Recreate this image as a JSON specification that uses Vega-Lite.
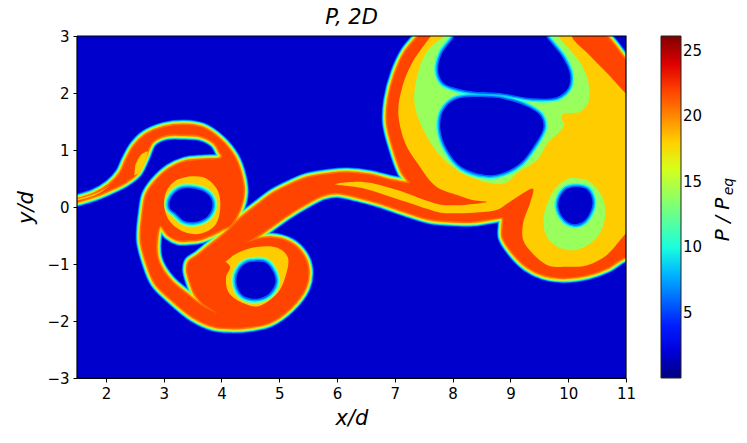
{"$schema":"https://vega.github.io/schema/vega-lite/v6.json","width":549,"height":342,"autosize":"none","padding":{"left":77,"top":36,"right":121,"bottom":65},"background":"white","title":{"text":"P, 2D","font":"DejaVu Sans","fontStyle":"italic","fontWeight":"normal","fontSize":21,"color":"black","offset":1,"anchor":"middle"},
"config":{"view":{"stroke":null},"axis":{"grid":false,"labelFlush":false,"labelOverlap":false,"labelFont":"DejaVu Sans","titleFont":"DejaVu Sans","labelFontSize":15,"titleFontSize":21,"titleFontStyle":"italic","titleFontWeight":"normal","labelColor":"black","titleColor":"black","tickColor":"black","domainColor":"black","tickSize":4,"labelPadding":4,"zindex":1},"legend":{"labelFont":"DejaVu Sans","labelFontSize":15,"labelColor":"black","labelOffset":8}},
"data":{"values":[
{"s":"bg","o":1,"x":1,"y":4,"v":1.73},{"s":"bg","o":2,"x":12,"y":4,"v":1.73},{"s":"bg","o":3,"x":12,"y":-4,"v":1.73},{"s":"bg","o":4,"x":1,"y":-4,"v":1.73},
{"s":"frame","o":1,"x":1.5,"y":3},{"s":"frame","o":2,"x":11,"y":3},{"s":"frame","o":3,"x":11,"y":-3},{"s":"frame","o":4,"x":1.5,"y":-3},{"s":"frame","o":5,"x":1.5,"y":3},
{"s":"A","o":1,"x":1.38,"y":0.1,"v":21.9},{"s":"A","o":2,"x":1.8,"y":0.23,"v":21.9},{"s":"A","o":3,"x":2.06,"y":0.39,"v":21.9},{"s":"A","o":4,"x":2.25,"y":0.6,"v":21.9},{"s":"A","o":5,"x":2.35,"y":0.82,"v":21.9},{"s":"A","o":6,"x":2.49,"y":1.07,"v":21.9},{"s":"A","o":7,"x":2.68,"y":1.26,"v":21.9},{"s":"A","o":8,"x":3.01,"y":1.4,"v":21.9},{"s":"A","o":9,"x":3.36,"y":1.44,"v":21.9},{"s":"A","o":10,"x":3.67,"y":1.39,"v":21.9},{"s":"A","o":11,"x":3.98,"y":1.18,"v":21.9},{"s":"A","o":12,"x":4.22,"y":0.88,"v":21.9},{"s":"A","o":13,"x":4.34,"y":0.56,"v":21.9},{"s":"A","o":14,"x":4.38,"y":0.25,"v":21.9},{"s":"A","o":15,"x":4.31,"y":-0.05,"v":21.9},{"s":"A","o":16,"x":4.15,"y":-0.32,"v":21.9},{"s":"A","o":17,"x":4.01,"y":-0.39,"v":21.9},{"s":"A","o":18,"x":3.86,"y":-0.47,"v":21.9},{"s":"A","o":19,"x":3.63,"y":-0.56,"v":21.9},{"s":"A","o":20,"x":3.46,"y":-0.58,"v":21.9},{"s":"A","o":21,"x":3.25,"y":-0.58,"v":21.9},{"s":"A","o":22,"x":3.08,"y":-0.49,"v":21.9},{"s":"A","o":23,"x":2.94,"y":-0.33,"v":21.9},{"s":"A","o":24,"x":2.87,"y":-0.67,"v":21.9},{"s":"A","o":25,"x":2.91,"y":-0.96,"v":21.9},{"s":"A","o":26,"x":3.11,"y":-1.28,"v":21.9},{"s":"A","o":27,"x":3.41,"y":-1.54,"v":21.9},{"s":"A","o":28,"x":3.69,"y":-1.75,"v":21.9},{"s":"A","o":29,"x":3.93,"y":-1.86,"v":21.9},{"s":"A","o":30,"x":3.69,"y":-1.7,"v":21.9},{"s":"A","o":31,"x":3.55,"y":-1.54,"v":21.9},{"s":"A","o":32,"x":3.46,"y":-1.31,"v":21.9},{"s":"A","o":33,"x":3.41,"y":-1.1,"v":21.9},{"s":"A","o":34,"x":3.44,"y":-0.96,"v":21.9},{"s":"A","o":35,"x":3.58,"y":-0.86,"v":21.9},{"s":"A","o":36,"x":3.81,"y":-0.67,"v":21.9},{"s":"A","o":37,"x":4.07,"y":-0.46,"v":21.9},{"s":"A","o":38,"x":4.33,"y":-0.2,"v":21.9},{"s":"A","o":39,"x":4.62,"y":0.03,"v":21.9},{"s":"A","o":40,"x":4.9,"y":0.24,"v":21.9},{"s":"A","o":41,"x":5.19,"y":0.39,"v":21.9},{"s":"A","o":42,"x":5.48,"y":0.51,"v":21.9},{"s":"A","o":43,"x":5.88,"y":0.58,"v":21.9},{"s":"A","o":44,"x":6.18,"y":0.6,"v":21.9},{"s":"A","o":45,"x":6.57,"y":0.56,"v":21.9},{"s":"A","o":46,"x":6.92,"y":0.47,"v":21.9},{"s":"A","o":47,"x":7.21,"y":0.42,"v":21.9},{"s":"A","o":48,"x":7.26,"y":0.42,"v":21.9},{"s":"A","o":49,"x":7.13,"y":0.6,"v":21.9},{"s":"A","o":50,"x":6.97,"y":1.05,"v":21.9},{"s":"A","o":51,"x":6.87,"y":1.47,"v":21.9},{"s":"A","o":52,"x":6.89,"y":1.88,"v":21.9},{"s":"A","o":53,"x":7.01,"y":2.35,"v":21.9},{"s":"A","o":54,"x":7.18,"y":2.72,"v":21.9},{"s":"A","o":55,"x":7.39,"y":2.98,"v":21.9},{"s":"A","o":56,"x":7.52,"y":3.14,"v":21.9},{"s":"A","o":57,"x":10.45,"y":3.14,"v":21.9},{"s":"A","o":58,"x":11.08,"y":2.51,"v":21.9},{"s":"A","o":59,"x":11.25,"y":2.51,"v":21.9},{"s":"A","o":60,"x":11.25,"y":-0.84,"v":21.9},{"s":"A","o":61,"x":10.98,"y":-0.88,"v":21.9},{"s":"A","o":62,"x":10.67,"y":-1.07,"v":21.9},{"s":"A","o":63,"x":10.33,"y":-1.19,"v":21.9},{"s":"A","o":64,"x":9.91,"y":-1.24,"v":21.9},{"s":"A","o":65,"x":9.57,"y":-1.19,"v":21.9},{"s":"A","o":66,"x":9.29,"y":-1.05,"v":21.9},{"s":"A","o":67,"x":9.03,"y":-0.79,"v":21.9},{"s":"A","o":68,"x":8.87,"y":-0.53,"v":21.9},{"s":"A","o":69,"x":8.87,"y":-0.32,"v":21.9},{"s":"A","o":70,"x":8.87,"y":-0.19,"v":21.9},{"s":"A","o":71,"x":8.65,"y":-0.21,"v":21.9},{"s":"A","o":72,"x":8.36,"y":-0.25,"v":21.9},{"s":"A","o":73,"x":8.08,"y":-0.25,"v":21.9},{"s":"A","o":74,"x":7.61,"y":-0.21,"v":21.9},{"s":"A","o":75,"x":7.21,"y":-0.09,"v":21.9},{"s":"A","o":76,"x":6.75,"y":0.07,"v":21.9},{"s":"A","o":77,"x":6.35,"y":0.18,"v":21.9},{"s":"A","o":78,"x":6.0,"y":0.25,"v":21.9},{"s":"A","o":79,"x":5.76,"y":0.21,"v":21.9},{"s":"A","o":80,"x":5.48,"y":0.07,"v":21.9},{"s":"A","o":81,"x":5.14,"y":-0.14,"v":21.9},{"s":"A","o":82,"x":4.72,"y":-0.44,"v":21.9},{"s":"A","o":83,"x":4.45,"y":-0.61,"v":21.9},{"s":"A","o":84,"x":4.29,"y":-0.68,"v":21.9},{"s":"A","o":85,"x":4.5,"y":-0.6,"v":21.9},{"s":"A","o":86,"x":4.84,"y":-0.54,"v":21.9},{"s":"A","o":87,"x":5.19,"y":-0.63,"v":21.9},{"s":"A","o":88,"x":5.41,"y":-0.84,"v":21.9},{"s":"A","o":89,"x":5.5,"y":-1.1,"v":21.9},{"s":"A","o":90,"x":5.45,"y":-1.42,"v":21.9},{"s":"A","o":91,"x":5.19,"y":-1.77,"v":21.9},{"s":"A","o":92,"x":4.84,"y":-2.02,"v":21.9},{"s":"A","o":93,"x":4.5,"y":-2.1,"v":21.9},{"s":"A","o":94,"x":4.15,"y":-2.12,"v":21.9},{"s":"A","o":95,"x":3.86,"y":-2.09,"v":21.9},{"s":"A","o":96,"x":3.51,"y":-1.93,"v":21.9},{"s":"A","o":97,"x":3.11,"y":-1.6,"v":21.9},{"s":"A","o":98,"x":2.85,"y":-1.33,"v":21.9},{"s":"A","o":99,"x":2.7,"y":-0.96,"v":21.9},{"s":"A","o":100,"x":2.61,"y":-0.58,"v":21.9},{"s":"A","o":101,"x":2.65,"y":-0.05,"v":21.9},{"s":"A","o":102,"x":2.7,"y":0.21,"v":21.9},{"s":"A","o":103,"x":2.85,"y":0.44,"v":21.9},{"s":"A","o":104,"x":3.1,"y":0.67,"v":21.9},{"s":"A","o":105,"x":3.36,"y":0.79,"v":21.9},{"s":"A","o":106,"x":3.7,"y":0.83,"v":21.9},{"s":"A","o":107,"x":3.98,"y":0.85,"v":21.9},{"s":"A","o":108,"x":4.01,"y":0.9,"v":21.9},{"s":"A","o":109,"x":3.98,"y":0.95,"v":21.9},{"s":"A","o":110,"x":3.88,"y":1.12,"v":21.9},{"s":"A","o":111,"x":3.63,"y":1.25,"v":21.9},{"s":"A","o":112,"x":3.36,"y":1.27,"v":21.9},{"s":"A","o":113,"x":3.03,"y":1.26,"v":21.9},{"s":"A","o":114,"x":2.8,"y":1.14,"v":21.9},{"s":"A","o":115,"x":2.68,"y":0.88,"v":21.9},{"s":"A","o":116,"x":2.54,"y":0.6,"v":21.9},{"s":"A","o":117,"x":2.34,"y":0.44,"v":21.9},{"s":"A","o":118,"x":2.02,"y":0.28,"v":21.9},{"s":"A","o":119,"x":1.8,"y":0.19,"v":21.9},{"s":"A","o":120,"x":1.38,"y":0.08,"v":21.9},{"s":"A","o":121,"x":1.38,"y":0.1,"v":21.9},
{"s":"Y1","o":1,"x":7.7,"y":3.14,"v":18.15},{"s":"Y1","o":2,"x":10.07,"y":3.14,"v":18.15},{"s":"Y1","o":3,"x":10.07,"y":2.98,"v":18.15},{"s":"Y1","o":4,"x":10.33,"y":2.7,"v":18.15},{"s":"Y1","o":5,"x":10.67,"y":2.35,"v":18.15},{"s":"Y1","o":6,"x":11.11,"y":1.91,"v":18.15},{"s":"Y1","o":7,"x":11.25,"y":1.91,"v":18.15},{"s":"Y1","o":8,"x":11.25,"y":-0.23,"v":18.15},{"s":"Y1","o":9,"x":11.02,"y":-0.44,"v":18.15},{"s":"Y1","o":10,"x":10.9,"y":-0.58,"v":18.15},{"s":"Y1","o":11,"x":10.67,"y":-0.84,"v":18.15},{"s":"Y1","o":12,"x":10.33,"y":-1.02,"v":18.15},{"s":"Y1","o":13,"x":9.98,"y":-1.05,"v":18.15},{"s":"Y1","o":14,"x":9.64,"y":-1.02,"v":18.15},{"s":"Y1","o":15,"x":9.38,"y":-0.81,"v":18.15},{"s":"Y1","o":16,"x":9.22,"y":-0.58,"v":18.15},{"s":"Y1","o":17,"x":9.22,"y":-0.28,"v":18.15},{"s":"Y1","o":18,"x":9.34,"y":0.07,"v":18.15},{"s":"Y1","o":19,"x":9.39,"y":0.32,"v":18.15},{"s":"Y1","o":20,"x":9.17,"y":0.21,"v":18.15},{"s":"Y1","o":21,"x":8.96,"y":0.07,"v":18.15},{"s":"Y1","o":22,"x":8.77,"y":-0.05,"v":18.15},{"s":"Y1","o":23,"x":8.36,"y":-0.1,"v":18.15},{"s":"Y1","o":24,"x":7.79,"y":-0.1,"v":18.15},{"s":"Y1","o":25,"x":7.61,"y":-0.05,"v":18.15},{"s":"Y1","o":26,"x":7.04,"y":0.14,"v":18.15},{"s":"Y1","o":27,"x":6.45,"y":0.33,"v":18.15},{"s":"Y1","o":28,"x":5.97,"y":0.4,"v":18.15},{"s":"Y1","o":29,"x":6.45,"y":0.44,"v":18.15},{"s":"Y1","o":30,"x":7.04,"y":0.3,"v":18.15},{"s":"Y1","o":31,"x":7.61,"y":0.09,"v":18.15},{"s":"Y1","o":32,"x":7.79,"y":0.04,"v":18.15},{"s":"Y1","o":33,"x":8.25,"y":0.04,"v":18.15},{"s":"Y1","o":34,"x":8.6,"y":0.09,"v":18.15},{"s":"Y1","o":35,"x":8.36,"y":0.12,"v":18.15},{"s":"Y1","o":36,"x":8.08,"y":0.21,"v":18.15},{"s":"Y1","o":37,"x":7.7,"y":0.37,"v":18.15},{"s":"Y1","o":38,"x":7.39,"y":0.77,"v":18.15},{"s":"Y1","o":39,"x":7.18,"y":1.12,"v":18.15},{"s":"Y1","o":40,"x":7.06,"y":1.65,"v":18.15},{"s":"Y1","o":41,"x":7.13,"y":2.11,"v":18.15},{"s":"Y1","o":42,"x":7.3,"y":2.53,"v":18.15},{"s":"Y1","o":43,"x":7.61,"y":2.98,"v":18.15},
{"s":"Y2","o":1,"x":3.46,"y":0.54,"v":18.15},{"s":"Y2","o":2,"x":3.72,"y":0.51,"v":18.15},{"s":"Y2","o":3,"x":3.93,"y":0.3,"v":18.15},{"s":"Y2","o":4,"x":3.98,"y":0,"v":18.15},{"s":"Y2","o":5,"x":3.89,"y":-0.32,"v":18.15},{"s":"Y2","o":6,"x":3.63,"y":-0.47,"v":18.15},{"s":"Y2","o":7,"x":3.36,"y":-0.44,"v":18.15},{"s":"Y2","o":8,"x":3.11,"y":-0.26,"v":18.15},{"s":"Y2","o":9,"x":3.01,"y":0,"v":18.15},{"s":"Y2","o":10,"x":3.04,"y":0.26,"v":18.15},{"s":"Y2","o":11,"x":3.2,"y":0.46,"v":18.15},{"s":"Y2","o":12,"x":3.46,"y":0.54,"v":18.15},
{"s":"Y3","o":1,"x":4.07,"y":-0.96,"v":18.15},{"s":"Y3","o":2,"x":4.27,"y":-0.81,"v":18.15},{"s":"Y3","o":3,"x":4.62,"y":-0.7,"v":18.15},{"s":"Y3","o":4,"x":4.98,"y":-0.72,"v":18.15},{"s":"Y3","o":5,"x":5.15,"y":-0.89,"v":18.15},{"s":"Y3","o":6,"x":5.1,"y":-1.24,"v":18.15},{"s":"Y3","o":7,"x":4.97,"y":-1.51,"v":18.15},{"s":"Y3","o":8,"x":4.64,"y":-1.74,"v":18.15},{"s":"Y3","o":9,"x":4.36,"y":-1.68,"v":18.15},{"s":"Y3","o":10,"x":4.12,"y":-1.49,"v":18.15},{"s":"Y3","o":11,"x":4.08,"y":-1.23,"v":18.15},{"s":"Y3","o":12,"x":4.15,"y":-1.05,"v":18.15},{"s":"Y3","o":13,"x":4.07,"y":-0.96,"v":18.15},
{"s":"Y4","o":1,"x":2.51,"y":0.74,"v":18.15},{"s":"Y4","o":2,"x":2.6,"y":0.91,"v":18.15},{"s":"Y4","o":3,"x":2.72,"y":0.97,"v":18.15},{"s":"Y4","o":4,"x":2.68,"y":0.82,"v":18.15},{"s":"Y4","o":5,"x":2.58,"y":0.6,"v":18.15},{"s":"Y4","o":6,"x":2.49,"y":0.56,"v":18.15},
{"s":"Y5","o":1,"x":1.38,"y":0.11,"v":18.15},{"s":"Y5","o":2,"x":1.8,"y":0.23,"v":18.15},{"s":"Y5","o":3,"x":2.05,"y":0.36,"v":18.15},{"s":"Y5","o":4,"x":2.2,"y":0.48,"v":18.15},{"s":"Y5","o":5,"x":2.0,"y":0.32,"v":18.15},{"s":"Y5","o":6,"x":1.8,"y":0.2,"v":18.15},{"s":"Y5","o":7,"x":1.38,"y":0.08,"v":18.15},
{"s":"G1","o":1,"x":7.94,"y":3.14,"v":14},{"s":"G1","o":2,"x":9.77,"y":3.14,"v":14},{"s":"G1","o":3,"x":9.86,"y":2.96,"v":14},{"s":"G1","o":4,"x":10.21,"y":2.53,"v":14},{"s":"G1","o":5,"x":10.35,"y":2.18,"v":14},{"s":"G1","o":6,"x":10.35,"y":1.84,"v":14},{"s":"G1","o":7,"x":10.21,"y":1.67,"v":14},{"s":"G1","o":8,"x":9.91,"y":1.63,"v":14},{"s":"G1","o":9,"x":9.88,"y":1.56,"v":14},{"s":"G1","o":10,"x":9.93,"y":1.44,"v":14},{"s":"G1","o":11,"x":9.83,"y":1.3,"v":14},{"s":"G1","o":12,"x":9.64,"y":1.12,"v":14},{"s":"G1","o":13,"x":9.46,"y":0.82,"v":14},{"s":"G1","o":14,"x":9.12,"y":0.6,"v":14},{"s":"G1","o":15,"x":8.91,"y":0.42,"v":14},{"s":"G1","o":16,"x":8.56,"y":0.44,"v":14},{"s":"G1","o":17,"x":8.16,"y":0.6,"v":14},{"s":"G1","o":18,"x":7.82,"y":0.86,"v":14},{"s":"G1","o":19,"x":7.52,"y":1.3,"v":14},{"s":"G1","o":20,"x":7.34,"y":1.82,"v":14},{"s":"G1","o":21,"x":7.4,"y":2.35,"v":14},{"s":"G1","o":22,"x":7.57,"y":2.75,"v":14},{"s":"G1","o":23,"x":7.83,"y":2.98,"v":14},
{"s":"G2","o":1,"x":10.03,"y":0.51,"v":14},{"s":"G2","o":2,"x":10.33,"y":0.47,"v":14},{"s":"G2","o":3,"x":10.59,"y":0.18,"v":14},{"s":"G2","o":4,"x":10.64,"y":-0.17,"v":14},{"s":"G2","o":5,"x":10.5,"y":-0.53,"v":14},{"s":"G2","o":6,"x":10.15,"y":-0.75,"v":14},{"s":"G2","o":7,"x":9.86,"y":-0.72,"v":14},{"s":"G2","o":8,"x":9.64,"y":-0.54,"v":14},{"s":"G2","o":9,"x":9.57,"y":-0.26,"v":14},{"s":"G2","o":10,"x":9.66,"y":0.12,"v":14},{"s":"G2","o":11,"x":9.83,"y":0.39,"v":14},{"s":"G2","o":12,"x":10.03,"y":0.51,"v":14},
{"s":"G3","o":1,"x":3.15,"y":-0.02,"v":14},{"s":"G3","o":2,"x":3.18,"y":-0.16,"v":14},{"s":"G3","o":3,"x":3.34,"y":-0.26,"v":14},{"s":"G3","o":4,"x":3.49,"y":-0.28,"v":14},{"s":"G3","o":5,"x":3.29,"y":-0.12,"v":14},
{"s":"H1","o":1,"x":8.1,"y":3.14,"v":1.72},{"s":"H1","o":2,"x":9.52,"y":3.14,"v":1.72},{"s":"H1","o":3,"x":9.64,"y":2.96,"v":1.72},{"s":"H1","o":4,"x":9.91,"y":2.61,"v":1.72},{"s":"H1","o":5,"x":10.03,"y":2.32,"v":1.72},{"s":"H1","o":6,"x":10.0,"y":2.09,"v":1.72},{"s":"H1","o":7,"x":9.81,"y":1.93,"v":1.72},{"s":"H1","o":8,"x":9.39,"y":1.91,"v":1.72},{"s":"H1","o":9,"x":8.82,"y":2.0,"v":1.72},{"s":"H1","o":10,"x":8.39,"y":2.02,"v":1.72},{"s":"H1","o":11,"x":8.04,"y":2.09,"v":1.72},{"s":"H1","o":12,"x":7.83,"y":2.19,"v":1.72},{"s":"H1","o":13,"x":7.75,"y":2.4,"v":1.72},{"s":"H1","o":14,"x":7.82,"y":2.7,"v":1.72},{"s":"H1","o":15,"x":8.01,"y":2.96,"v":1.72},{"s":"H1","o":16,"x":8.1,"y":3.14,"v":1.72},
{"s":"H2","o":1,"x":8.82,"y":1.91,"v":1.72},{"s":"H2","o":2,"x":9.22,"y":1.79,"v":1.72},{"s":"H2","o":3,"x":9.51,"y":1.61,"v":1.72},{"s":"H2","o":4,"x":9.57,"y":1.4,"v":1.72},{"s":"H2","o":5,"x":9.39,"y":1.05,"v":1.72},{"s":"H2","o":6,"x":9.17,"y":0.77,"v":1.72},{"s":"H2","o":7,"x":8.87,"y":0.6,"v":1.72},{"s":"H2","o":8,"x":8.6,"y":0.56,"v":1.72},{"s":"H2","o":9,"x":8.16,"y":0.7,"v":1.72},{"s":"H2","o":10,"x":7.91,"y":1.0,"v":1.72},{"s":"H2","o":11,"x":7.79,"y":1.35,"v":1.72},{"s":"H2","o":12,"x":7.83,"y":1.67,"v":1.72},{"s":"H2","o":13,"x":8.04,"y":1.88,"v":1.72},{"s":"H2","o":14,"x":8.39,"y":1.93,"v":1.72},{"s":"H2","o":15,"x":8.82,"y":1.91,"v":1.72},
{"s":"H3","o":1,"x":10.12,"y":0.35,"v":1.72},{"s":"H3","o":2,"x":10.33,"y":0.3,"v":1.72},{"s":"H3","o":3,"x":10.42,"y":0.07,"v":1.72},{"s":"H3","o":4,"x":10.29,"y":-0.23,"v":1.72},{"s":"H3","o":5,"x":10.09,"y":-0.3,"v":1.72},{"s":"H3","o":6,"x":9.9,"y":-0.17,"v":1.72},{"s":"H3","o":7,"x":9.83,"y":0.07,"v":1.72},{"s":"H3","o":8,"x":9.95,"y":0.3,"v":1.72},{"s":"H3","o":9,"x":10.12,"y":0.35,"v":1.72},
{"s":"H4","o":1,"x":3.46,"y":0.33,"v":1.72},{"s":"H4","o":2,"x":3.67,"y":0.28,"v":1.72},{"s":"H4","o":3,"x":3.81,"y":0.16,"v":1.72},{"s":"H4","o":4,"x":3.84,"y":0,"v":1.72},{"s":"H4","o":5,"x":3.75,"y":-0.17,"v":1.72},{"s":"H4","o":6,"x":3.55,"y":-0.26,"v":1.72},{"s":"H4","o":7,"x":3.36,"y":-0.24,"v":1.72},{"s":"H4","o":8,"x":3.2,"y":-0.1,"v":1.72},{"s":"H4","o":9,"x":3.11,"y":-0.02,"v":1.72},{"s":"H4","o":10,"x":3.11,"y":0.12,"v":1.72},{"s":"H4","o":11,"x":3.2,"y":0.25,"v":1.72},{"s":"H4","o":12,"x":3.32,"y":0.32,"v":1.72},{"s":"H4","o":13,"x":3.46,"y":0.33,"v":1.72},
{"s":"H5","o":1,"x":4.58,"y":-0.96,"v":1.72},{"s":"H5","o":2,"x":4.76,"y":-0.98,"v":1.72},{"s":"H5","o":3,"x":4.9,"y":-1.16,"v":1.72},{"s":"H5","o":4,"x":4.93,"y":-1.33,"v":1.72},{"s":"H5","o":5,"x":4.81,"y":-1.53,"v":1.72},{"s":"H5","o":6,"x":4.58,"y":-1.61,"v":1.72},{"s":"H5","o":7,"x":4.36,"y":-1.54,"v":1.72},{"s":"H5","o":8,"x":4.26,"y":-1.33,"v":1.72},{"s":"H5","o":9,"x":4.31,"y":-1.1,"v":1.72},{"s":"H5","o":10,"x":4.45,"y":-0.98,"v":1.72},{"s":"H5","o":11,"x":4.58,"y":-0.96,"v":1.72}
]},
"encoding":{"x":{"field":"x","type":"quantitative","scale":{"domain":[1.5,11],"nice":false,"zero":false},"axis":null},"y":{"field":"y","type":"quantitative","scale":{"domain":[-3,3],"nice":false,"zero":false},"axis":null},"order":{"field":"o","type":"quantitative"},"detail":{"field":"s"}},
"layer":[
{"transform":[{"filter":"datum.s=='bg'"}],"mark":{"type":"line","clip":true,"stroke":null},"encoding":{"x":{"field":"x","type":"quantitative","axis":{"values":[2,3,4,5,6,7,8,9,10,11],"title":"x/d","format":"d","titlePadding":6}},"y":{"field":"y","type":"quantitative","axis":{"values":[-3,-2,-1,0,1,2,3],"title":"y/d","format":"d","titlePadding":10}},"fill":{"field":"v","type":"quantitative","scale":{"interpolate":"rgb","domain":[0,2.88,3.27,8.89,9.81,16.74,17.26,23.27,23.8,26.15],"range":["#00007f","#0000ff","#0000ff","#00dbff","#14ffe2","#eeff04","#ffec00","#ff1300","#e80000","#7f0000"]},"legend":{"title":null,"orient":"none","legendX":584,"legendY":0,"type":"gradient","direction":"vertical","gradientLength":342,"gradientThickness":20,"gradientStrokeColor":"#222222","gradientStrokeWidth":1,"values":[5,10,15,20,25]}}}},
{"transform":[{"filter":"datum.s=='A'"}],"mark":{"type":"line","interpolate":"catmull-rom","clip":true,"stroke":"#0050ff","strokeWidth":11,"strokeJoin":"round"}},
{"transform":[{"filter":"datum.s=='A'"}],"mark":{"type":"line","interpolate":"catmull-rom","clip":true,"stroke":"#00c8ff","strokeWidth":9.5,"strokeJoin":"round"}},
{"transform":[{"filter":"datum.s=='A'"}],"mark":{"type":"line","interpolate":"catmull-rom","clip":true,"stroke":"#40ffb8","strokeWidth":8,"strokeJoin":"round"}},
{"transform":[{"filter":"datum.s=='A'"}],"mark":{"type":"line","interpolate":"catmull-rom","clip":true,"stroke":"#b8ff40","strokeWidth":6.5,"strokeJoin":"round"}},
{"transform":[{"filter":"datum.s=='A'"}],"mark":{"type":"line","interpolate":"catmull-rom","clip":true,"stroke":"#ffd000","strokeWidth":5,"strokeJoin":"round"}},
{"transform":[{"filter":"datum.s=='A'"}],"mark":{"type":"line","interpolate":"catmull-rom","clip":true,"stroke":"#ff7000","strokeWidth":3,"strokeJoin":"round"}},
{"transform":[{"filter":"datum.s=='A'"}],"mark":{"type":"line","interpolate":"catmull-rom","clip":true,"stroke":null},"encoding":{"fill":{"field":"v","type":"quantitative"}}},
{"transform":[{"filter":"datum.v==18.15"}],"mark":{"type":"line","interpolate":"catmull-rom","clip":true,"stroke":null},"encoding":{"fill":{"field":"v","type":"quantitative"}}},
{"transform":[{"filter":"datum.v==14"}],"mark":{"type":"line","interpolate":"catmull-rom","clip":true,"stroke":null},"encoding":{"fill":{"field":"v","type":"quantitative"}}},
{"transform":[{"filter":"datum.v==1.72"}],"mark":{"type":"line","interpolate":"catmull-rom","clip":true,"stroke":"#99ff66","strokeWidth":10,"strokeJoin":"round"}},
{"transform":[{"filter":"datum.v==1.72"}],"mark":{"type":"line","interpolate":"catmull-rom","clip":true,"stroke":"#30ffd8","strokeWidth":8,"strokeJoin":"round"}},
{"transform":[{"filter":"datum.v==1.72"}],"mark":{"type":"line","interpolate":"catmull-rom","clip":true,"stroke":"#00c8ff","strokeWidth":5.5,"strokeJoin":"round"}},
{"transform":[{"filter":"datum.v==1.72"}],"mark":{"type":"line","interpolate":"catmull-rom","clip":true,"stroke":"#0060ff","strokeWidth":3,"strokeJoin":"round"}},
{"transform":[{"filter":"datum.v==1.72"}],"mark":{"type":"line","interpolate":"catmull-rom","clip":true,"stroke":null},"encoding":{"fill":{"field":"v","type":"quantitative"}}},
{"transform":[{"filter":"datum.s=='frame'"}],"mark":{"type":"line","stroke":"black","strokeWidth":1.2,"clip":false},"encoding":{"x":{"field":"x","type":"quantitative","axis":{"orient":"top","title":"eq","titleFontSize":14,"titleAngle":-90,"titleX":658,"titleY":150,"labels":false,"ticks":false,"domain":false}},"y":{"field":"y","type":"quantitative","axis":{"orient":"right","title":"P / P","titleFontSize":20,"titleAngle":-90,"titleX":106,"titleY":183,"labels":false,"ticks":false,"domain":false}}}}
],
"resolve":{"axis":{"x":"independent","y":"independent"}}}
